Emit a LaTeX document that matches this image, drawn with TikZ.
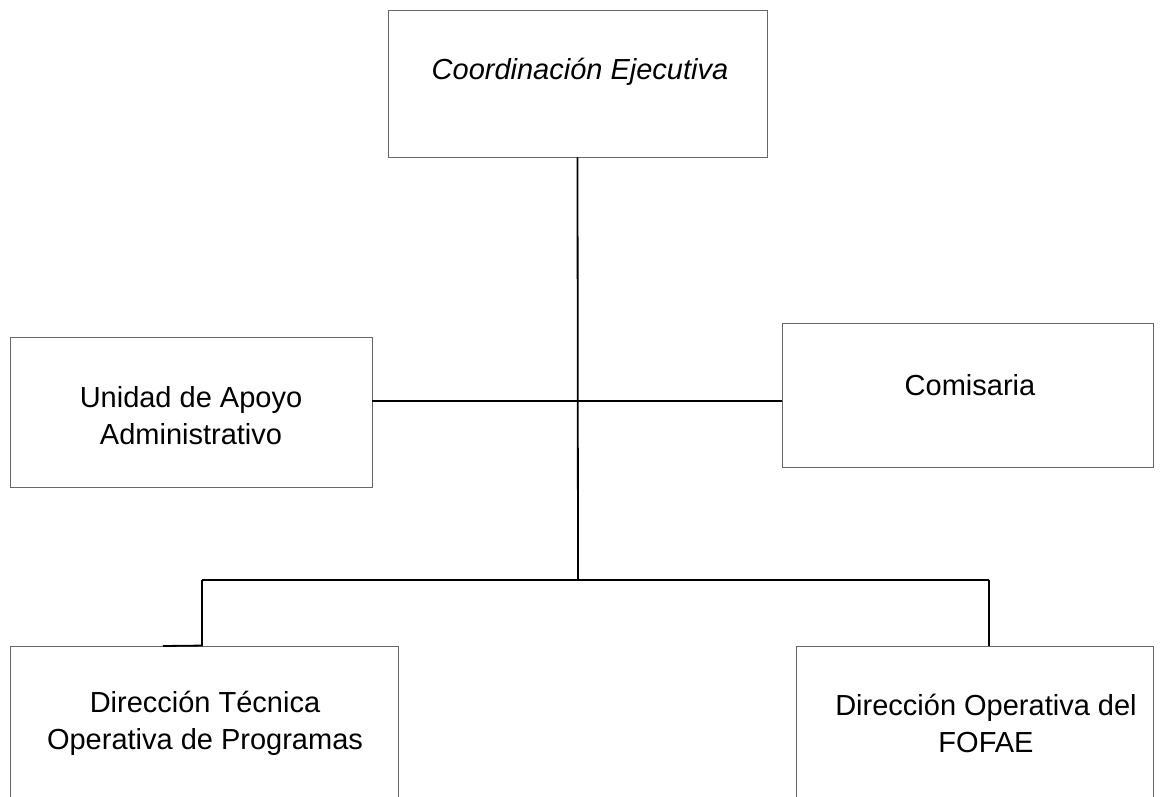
\documentclass[tikz,border=0pt]{standalone}
\usepackage{fontspec}
\setmainfont{Liberation Sans}
\begin{document}
\begin{tikzpicture}[x=1pt,y=-1pt,
  caja/.style={draw=black!60,line width=0.9pt,inner sep=0pt},
  texto/.style={align=center,font=\fontsize{29}{37}\selectfont},
  linea/.style={line width=1.8pt}]
\useasboundingbox (0,0) rectangle (1165,797);
\clip (0,0) rectangle (1165,797);
% cajas
\node[caja,minimum width=379pt,minimum height=147pt] (coord) at (577.5,83.5) {};
\node[caja,minimum width=362pt,minimum height=150pt] (unidad) at (191,412) {};
\node[caja,minimum width=371pt,minimum height=144pt] (comis) at (967.5,395) {};
\node[caja,minimum width=388pt,minimum height=200pt] (dtec) at (204,746) {};
\node[caja,minimum width=357pt,minimum height=200pt] (dope) at (974.5,746) {};
% textos
\node[texto,font=\fontsize{29}{37}\selectfont\itshape] (tcoord) at (580,72) {Coordinación Ejecutiva};
\node[texto] (tunidad) at (191,416) {Unidad de Apoyo\\Administrativo};
\node[texto] (tcomis) at (970,385) {Comisaria};
\node[texto] (tdtec) at (205,723) {Dirección Técnica\\Operativa de Programas};
\node[texto] (tdope) at (986,723) {Dirección Operativa del\\FOFAE};
% lineas
\coordinate (cruce) at (578,401);
\coordinate (centro) at (578,580);
\coordinate (izq) at (202,580);
\coordinate (der) at (989,580);
\coordinate (punta) at (163,646);
\draw[linea] (coord.south) -- (centro);
\draw[linea] (cruce -| unidad.east) -- (cruce -| comis.west);
\draw[linea] (izq) -- (der);
\draw[linea] (izq) -- (izq |- dtec.north) -- (punta);
\draw[linea] (der) -- (der |- dope.north);
\end{tikzpicture}
\end{document}
